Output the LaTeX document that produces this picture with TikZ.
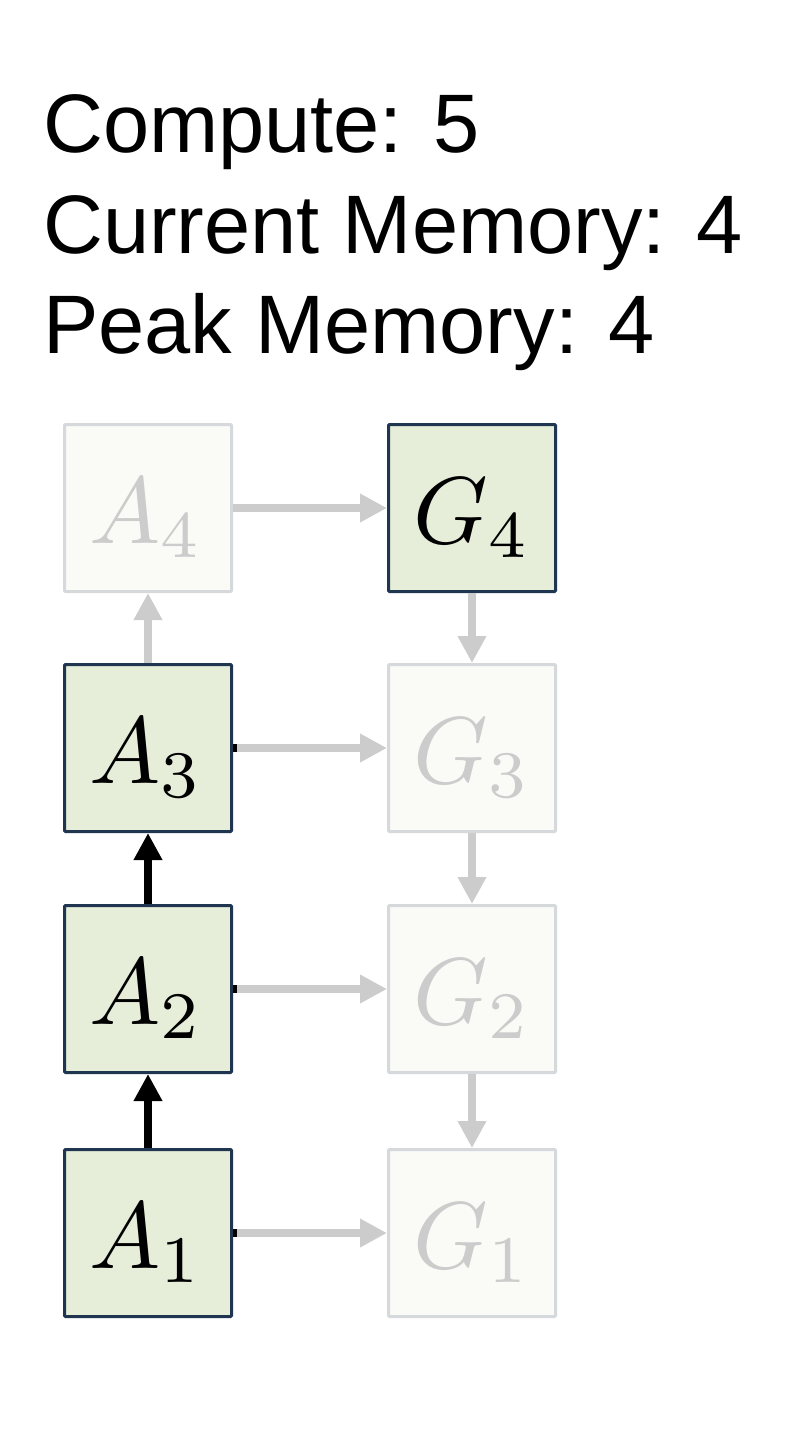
\documentclass[tikz,border=0pt]{standalone}
\usepackage{fontspec}
\setmainfont{Liberation Sans}
\usetikzlibrary{arrows.meta}
\definecolor{gfill}{HTML}{E6EED9}
\definecolor{dborder}{HTML}{1F3550}
\definecolor{ffill}{HTML}{FAFBF7}
\definecolor{fborder}{HTML}{D5D9DC}
\definecolor{farrow}{HTML}{CCCCCC}
\tikzset{
  x=1pt, y=-1pt,
  actbox/.style={draw=dborder, fill=gfill, line width=3pt, minimum size=167pt, inner sep=0pt, rounded corners=1pt},
  fadebox/.style={draw=fborder, fill=ffill, line width=3pt, minimum size=167pt, inner sep=0pt, rounded corners=1pt},
  lbl/.style={anchor=base, inner sep=0pt},
  hdr/.style={anchor=base west, inner sep=0pt, font=\fontsize{83}{100}\selectfont},
  blkarrow/.style={draw=black, line width=8pt, -{Triangle[length=27pt,width=27pt]}},
  grayarrow/.style={draw=farrow, line width=8pt, -{Triangle[length=27pt,width=27pt]}},
}
\begin{document}
\begin{tikzpicture}
\useasboundingbox (0,0) rectangle (802,1438);
% header text
\node[hdr] (t1) at (43,152) {Compute: 5};
\node[hdr] (t2) at (43,253) {Current Memory: 4};
\node[hdr] (t3) at (43,353) {Peak Memory: 4};
% boxes
\node[fadebox] (A4) at (148,508) {};
\node[actbox]  (G4) at (472,508) {};
\node[actbox]  (A3) at (148,748) {};
\node[fadebox] (G3) at (472,748) {};
\node[actbox]  (A2) at (148,989) {};
\node[fadebox] (G2) at (472,989) {};
\node[actbox]  (A1) at (148,1233) {};
\node[fadebox] (G1) at (472,1233) {};
% labels
\node[lbl, text=farrow] (A4t) at (146,543) {\scalebox{9.5}{$A_4$}};
\node[lbl] (G4t) at (472,543) {\scalebox{9.5}{$G_4$}};
\node[lbl] (A3t) at (146,783) {\scalebox{9.5}{$A_3$}};
\node[lbl, text=farrow] (G3t) at (472,783) {\scalebox{9.5}{$G_3$}};
\node[lbl] (A2t) at (146,1024) {\scalebox{9.5}{$A_2$}};
\node[lbl, text=farrow] (G2t) at (472,1024) {\scalebox{9.5}{$G_2$}};
\node[lbl] (A1t) at (146,1268) {\scalebox{9.5}{$A_1$}};
\node[lbl, text=farrow] (G1t) at (472,1268) {\scalebox{9.5}{$G_1$}};
% black stubs at start of horizontal arrows
\foreach \i in {1,2,3} {
  \draw[black, line width=8pt] (A\i.east) -- ++(4,0);
}
% connectors
\draw[blkarrow] (A1.north) -- (A2.south);
\draw[blkarrow] (A2.north) -- (A3.south);
\draw[grayarrow] (A3.north) -- (A4.south);
\draw[grayarrow] (A4.east) -- (G4.west);
\draw[grayarrow, shorten <=4pt] (A3.east) -- (G3.west);
\draw[grayarrow, shorten <=4pt] (A2.east) -- (G2.west);
\draw[grayarrow, shorten <=4pt] (A1.east) -- (G1.west);
\draw[grayarrow] (G4.south) -- (G3.north);
\draw[grayarrow] (G3.south) -- (G2.north);
\draw[grayarrow] (G2.south) -- (G1.north);
\end{tikzpicture}
\end{document}
